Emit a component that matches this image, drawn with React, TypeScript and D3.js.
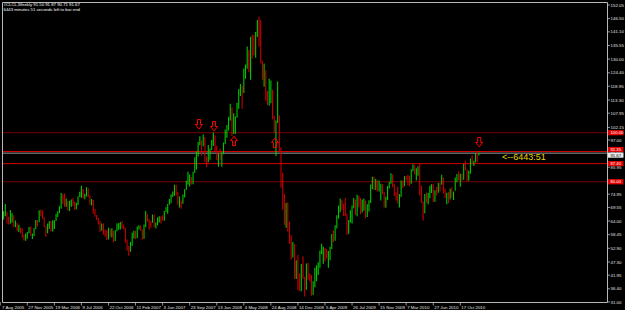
import React from 'react';
import * as d3 from 'd3';

// Weekly bars (#CLCL, Weekly), Aug 2005 – Jan 2011
const OPEN = [
  62.3,66.9,65.4,66.1,67.6,64.1,63.0,64.2,66.2,61.8,62.6,60.6,61.1,60.6,57.8,56.1,58.7,59.3,61.4,58.1,58.4,
  61.0,64.2,63.9,68.4,67.8,65.4,61.8,59.9,62.9,63.7,60.0,62.7,64.3,66.6,67.4,69.3,73.7,71.9,70.2,72.0,68.5,71.4,72.3,71.6,69.9,70.9,73.9,74.1,77.0,74.4,74.8,77.0,74.4,71.1,72.5,67.1,66.3,64.8,63.3,60.6,62.9,59.8,58.6,56.8,60.8,59.1,59.6,56.3,60.0,62.0,62.1,63.4,62.4,
  61.1,56.3,53.0,52.0,55.4,59.0,59.9,59.4,61.1,61.6,60.1,57.1,62.3,65.9,64.3,63.6,63.4,66.5,61.9,62.4,64.9,65.2,65.1,64.8,68.0,68.6,70.7,72.8,74.2,75.6,77.0,75.5,71.5,72.0,71.1,74.0,76.7,79.1,81.6,81.7,81.2,83.7,88.6,91.9,95.9,96.3,95.1,98.2,88.7,88.3,91.3,93.3,96.0,
  97.9,92.7,90.6,90.7,89.0,91.8,95.5,98.8,101.8,105.2,110.2,101.8,105.6,106.2,110.1,116.7,118.5,116.3,126.0,126.3,132.2,127.4,138.5,134.9,134.6,140.2,145.3,145.1,128.9,123.3,125.1,115.2,113.8,114.6,115.5,106.2,101.2,104.6,106.9,93.9,77.7,71.9,64.2,67.8,61.0,57.0,49.9,54.4,40.8,46.3,42.4,37.7,
  46.3,40.8,36.5,46.5,41.7,40.2,37.5,38.9,44.8,45.5,46.3,51.1,52.4,52.5,52.2,50.3,51.6,53.2,58.6,56.3,61.7,66.3,68.4,72.0,69.6,69.2,66.7,59.9,63.6,68.1,69.5,70.9,67.5,73.9,72.7,68.0,69.3,72.0,66.0,70.0,71.8,78.5,80.5,77.0,77.4,76.4,76.7,77.3,75.5,69.9,73.4,78.1,
  79.4,82.8,78.0,74.5,72.9,71.2,74.1,79.8,79.7,81.5,81.2,80.7,80.0,84.8,84.9,83.2,85.1,86.2,75.1,71.6,70.0,74.0,71.5,73.8,77.2,78.9,72.1,76.1,76.0,79.0,78.9,80.7,75.4,73.5,75.2,74.6,76.5,73.7,76.5,81.6,82.7,81.3,81.7,81.4,86.9,84.9,81.5,83.8,89.2,87.8,88.0,91.5,91.5,
];
const HIGH = [
  67.1,67.1,68.0,70.9,67.8,65.7,68.5,67.2,66.4,64.2,63.3,62.5,61.4,61.0,58.5,58.9,59.5,61.6,61.8,58.9,61.2,
  64.4,64.4,68.4,68.7,68.4,65.5,62.0,63.0,63.9,64.0,64.3,64.3,67.0,68.0,70.0,75.4,74.9,75.2,73.2,72.2,72.3,72.8,73.4,72.0,71.5,74.1,75.9,78.4,77.1,75.1,77.8,77.4,74.4,73.0,72.6,69.0,66.5,65.2,64.0,63.0,63.0,60.5,60.3,61.3,61.0,61.1,60.0,60.2,63.0,63.2,63.6,63.9,62.6,
  61.3,56.5,53.8,55.5,59.2,60.0,60.0,61.8,62.3,62.3,60.5,62.6,68.1,66.8,64.9,64.0,66.6,66.7,63.4,65.5,66.0,66.0,66.4,68.1,69.6,70.9,73.0,74.9,76.0,78.8,78.8,75.8,74.0,72.4,74.8,77.0,80.4,84.1,83.0,81.9,84.1,90.0,92.2,96.2,98.6,96.9,99.3,98.3,90.2,95.0,93.5,97.0,100.1,
  99.0,94.7,91.5,93.6,92.0,96.0,101.3,103.1,106.5,111.8,110.3,107.9,106.7,112.2,117.8,119.9,119.1,126.2,127.8,135.1,133.7,139.1,139.9,139.9,141.0,145.9,147.3,145.8,129.3,128.2,125.5,117.0,122.0,121.3,117.5,107.0,105.0,120.9,107.0,94.0,83.7,75.0,71.3,71.7,63.8,58.3,55.5,54.6,48.0,50.2,42.6,46.5,
  49.6,41.3,46.7,47.0,42.7,42.0,39.5,45.0,46.0,47.2,52.0,54.7,53.5,53.0,52.6,51.8,53.5,58.7,60.1,62.3,66.4,70.3,73.2,72.7,71.0,73.4,67.0,64.4,68.4,70.3,73.4,72.8,74.7,74.3,73.4,72.8,73.2,72.4,70.8,72.5,78.9,82.0,82.0,81.2,80.5,80.5,79.2,79.0,75.8,73.9,78.3,80.0,
  83.5,83.0,79.0,75.6,78.0,75.0,80.5,80.5,82.3,82.4,82.9,82.5,85.1,87.1,86.7,85.5,86.3,87.2,78.5,72.0,75.0,75.6,75.5,78.4,79.0,79.1,76.5,77.9,79.5,79.8,82.9,81.7,77.3,75.5,75.8,77.2,77.8,76.0,81.7,83.2,84.2,83.3,83.3,87.2,88.6,85.0,84.5,89.5,90.8,88.6,91.6,92.1,91.87,
];
const LOW = [
  62.2,62.6,64.6,66.0,63.0,62.6,62.9,63.4,61.6,61.5,59.8,59.5,59.0,57.2,56.1,56.0,56.8,59.0,58.0,56.7,57.9,
  60.8,61.8,63.5,66.0,64.8,61.6,57.6,59.0,60.9,59.8,59.7,60.8,64.0,65.6,67.2,69.0,71.0,69.8,69.8,68.3,68.1,69.8,70.2,68.5,68.8,70.5,73.8,73.5,73.3,72.9,74.0,73.8,70.6,70.3,67.0,65.7,64.4,62.6,59.5,60.0,58.5,57.6,56.3,56.5,57.6,57.3,55.3,55.9,59.8,60.4,60.5,61.0,60.5,
  55.1,51.9,49.9,51.5,53.9,56.9,56.6,57.0,60.5,59.9,56.4,56.8,61.5,63.7,60.4,61.3,63.3,61.5,61.0,62.2,63.4,63.0,64.2,64.1,67.7,67.0,70.6,71.2,73.8,74.3,74.4,70.6,69.5,69.0,71.0,73.6,76.6,78.9,78.1,78.9,79.0,83.6,85.0,90.3,94.9,90.6,94.5,88.0,86.0,88.0,89.0,93.0,94.6,
  92.5,88.9,86.1,88.9,86.1,91.2,95.3,97.9,100.9,105.0,98.7,99.5,99.6,106.1,109.8,115.0,109.8,116.2,122.0,126.1,124.6,121.6,130.1,131.5,130.5,139.0,135.1,128.2,121.6,118.7,113.0,111.3,111.0,112.0,105.5,100.0,90.5,104.0,92.5,77.6,68.6,62.4,61.3,59.6,54.7,48.3,49.1,40.5,40.4,35.9,35.4,35.4,
  40.5,33.2,36.0,40.1,39.4,33.6,33.9,37.0,39.4,42.0,45.0,50.5,46.6,47.6,48.7,45.0,48.0,52.6,55.5,56.0,61.0,65.0,67.6,68.5,66.1,66.0,58.3,58.8,63.4,63.0,69.2,66.5,65.9,69.6,66.8,67.5,68.2,65.1,65.6,67.9,71.3,77.0,76.5,76.6,76.0,76.0,72.4,75.0,69.5,69.4,72.6,77.3,
  79.2,77.8,74.2,72.4,71.1,69.5,73.8,77.5,78.2,80.5,78.6,78.2,79.2,84.3,83.0,80.5,82.5,74.5,71.4,64.2,67.2,71.4,70.8,73.3,75.4,71.8,71.9,74.4,75.5,76.0,78.8,75.3,73.3,70.8,71.3,72.8,73.6,72.6,76.3,79.8,80.5,78.0,80.3,80.8,84.7,80.1,80.4,83.3,87.2,86.4,87.9,88.0,90.71,
];
const CLOSE = [
  66.9,65.4,66.1,67.6,64.1,63.0,64.2,66.2,61.8,62.6,60.6,61.1,60.6,57.8,56.1,58.7,59.3,61.4,58.1,58.4,61.0,
  64.2,63.9,68.4,67.8,65.4,61.8,59.9,62.9,63.7,60.0,62.7,64.3,66.6,67.4,69.3,73.7,71.9,70.2,72.0,68.5,71.4,72.3,71.6,69.9,70.9,73.9,74.1,77.0,74.4,74.8,77.0,74.4,71.1,72.5,67.1,66.3,64.8,63.3,60.6,62.9,59.8,58.6,56.8,60.8,59.1,59.6,56.3,60.0,62.0,62.1,63.4,62.4,61.1,
  56.3,53.0,52.0,55.4,59.0,59.9,59.4,61.1,61.6,60.1,57.1,62.3,65.9,64.3,63.6,63.4,66.5,61.9,62.4,64.9,65.2,65.1,64.8,68.0,68.6,70.7,72.8,74.2,75.6,77.0,75.5,71.5,72.0,71.1,74.0,76.7,79.1,81.6,81.7,81.2,83.7,88.6,91.9,95.9,96.3,95.1,98.2,88.7,88.3,91.3,93.3,96.0,97.9,
  92.7,90.6,90.7,89.0,91.8,95.5,98.8,101.8,105.2,110.2,101.8,105.6,106.2,110.1,116.7,118.5,116.3,126.0,126.3,132.2,127.4,138.5,134.9,134.6,140.2,145.3,145.1,128.9,123.3,125.1,115.2,113.8,114.6,115.5,106.2,101.2,104.6,106.9,93.9,77.7,71.9,64.2,67.8,61.0,57.0,49.9,54.4,40.8,46.3,42.4,37.7,46.3,
  40.8,36.5,46.5,41.7,40.2,37.5,38.9,44.8,45.5,46.3,51.1,52.4,52.5,52.2,50.3,51.6,53.2,58.6,56.3,61.7,66.3,68.4,72.0,69.6,69.2,66.7,59.9,63.6,68.1,69.5,70.9,67.5,73.9,72.7,68.0,69.3,72.0,66.0,70.0,71.8,78.5,80.5,77.0,77.4,76.4,76.7,77.3,75.5,69.9,73.4,78.1,79.4,
  82.8,78.0,74.5,72.9,71.2,74.1,79.8,79.7,81.5,81.2,80.7,80.0,84.9,84.9,83.2,85.1,86.2,75.1,71.6,70.0,74.0,71.5,73.8,77.2,78.9,72.1,76.1,76.0,79.0,78.9,80.7,75.4,73.5,75.2,74.6,76.5,73.7,76.5,81.6,82.7,81.3,81.7,81.4,86.9,84.9,81.5,83.8,89.2,87.8,88.0,91.5,91.4,91.67,
];

const DATE_LABELS = [
  '7 Aug 2005','27 Nov 2005','19 Mar 2006','9 Jul 2006','22 Oct 2006','11 Feb 2007',
  '3 Jun 2007','23 Sep 2007','13 Jan 2008','4 May 2008','24 Aug 2008','14 Dec 2008',
  '5 Apr 2009','26 Jul 2009','15 Nov 2009','7 Mar 2010','27 Jun 2010','17 Oct 2010',
];
const LABEL_EVERY = 16; // bars between time-axis labels

const PRICE_LABELS = [
  '152.05','146.50','141.10','135.55','130.00','124.40','118.95','113.30','107.95','102.15',
  '97.00','91.50','85.95','80.40','74.95','69.55','64.00','58.45','52.90','47.30','41.95','36.40','31.00',
];

const LEVEL_PRICES = [100.0, 92.35, 87.4, 80.0];
const LEVEL_KINDS = ['outer', 'inner', 'inner', 'outer'];
const BID = 91.67;

const ARROW_BARS = [117.5, 126.4, 138.2, 162.4, 283.2];
const ARROW_PRICES = [101.5, 100.7, 98.6, 97.8, 94.2];
const ARROW_DIRS = ['down', 'down', 'up', 'up', 'down'];

const HEADER = ['#CLCL,Weekly  91.50 91.87 90.71 91.67', '6443 minutes 51 seconds left to bar end'];
const TIMER = '<--6443:51';

const FONT = "'Liberation Sans', Arial, sans-serif";

export default function App() {
  const L = 2, T = 2, R = 607, B = 302;
  const x = d3.scaleLinear().domain([0, 272]).range([0.25, 460.3]);
  const y = d3.scaleLinear().domain([31.0, 152.05]).range([B, 5]);
  const n = CLOSE.length;
  const bars = d3.range(n);

  const arrowPath = (dir: string) =>
    dir === 'down'
      ? 'M-1.5,-9.5 L1.5,-9.5 L1.5,-4.5 L3.5,-4.5 L0,0 L-3.5,-4.5 L-1.5,-4.5 Z'
      : 'M-1.5,9.5 L1.5,9.5 L1.5,4.5 L3.5,4.5 L0,0 L-3.5,4.5 L-1.5,4.5 Z';

  // price-axis boxes, stacked so that close ones do not overlap
  const BOX_H = 5.2;
  const boxes = [
    ...LEVEL_PRICES.map((p) => ({ p, bg: '#e00000', fg: '#ffffff', cy: y(p) })),
    { p: BID, bg: '#e8e8e8', fg: '#000000', cy: y(BID) },
  ].sort((a, b) => a.cy - b.cy);
  for (let i = 1; i < boxes.length; i++) {
    const gap = boxes[i].cy - boxes[i - 1].cy;
    if (gap < BOX_H + 0.4) {
      const push = (BOX_H + 0.4 - gap) / 2;
      boxes[i - 1].cy -= push;
      boxes[i].cy += push;
    }
  }

  return (
    <svg
      width={625}
      height={310}
      style={{ position: 'absolute', left: 0, top: 0, display: 'block' }}
      fontFamily={FONT}
    >
      <rect x={0} y={0} width={625} height={310} fill="#000" />
      <defs>
        <clipPath id="plotclip">
          <rect x={L} y={T} width={R - L} height={B - T} />
        </clipPath>
      </defs>
      <g clipPath="url(#plotclip)">
        {LEVEL_PRICES.map((p, i) => (
          <line
            key={'lv' + i}
            x1={L}
            x2={R}
            y1={y(p)}
            y2={y(p)}
            stroke={LEVEL_KINDS[i] === 'outer' ? '#7a0000' : '#d40000'}
            strokeWidth={1}
          />
        ))}
        <line x1={L} x2={R} y1={y(BID)} y2={y(BID)} stroke="#9a9a9a" strokeWidth={1} />
        {bars.map((i) => {
          const up = CLOSE[i] >= OPEN[i];
          return (
            <line
              key={'b' + i}
              x1={x(i)}
              x2={x(i)}
              y1={y(HIGH[i])}
              y2={y(LOW[i])}
              stroke={up ? '#00c800' : '#c80000'}
              strokeWidth={1.1}
            />
          );
        })}
        {ARROW_BARS.map((b, i) => (
          <path
            key={'ar' + i}
            d={arrowPath(ARROW_DIRS[i])}
            transform={`translate(${x(b)},${y(ARROW_PRICES[i])})`}
            fill="none"
            stroke="#ff0000"
            strokeWidth={1}
          />
        ))}
      </g>
      {/* frame */}
      <path d={`M${L + 0.5},${B + 0.5} L${L + 0.5},${T + 0.5} L${R + 0.5},${T + 0.5} L${R + 0.5},${B + 0.5} Z`} fill="none" stroke="#b8b8b8" strokeWidth={1} />
      {/* price axis */}
      {PRICE_LABELS.map((s, i) => (
        <g key={'pt' + i}>
          <line x1={R + 0.5} x2={R + 3} y1={y(+s)} y2={y(+s)} stroke="#b8b8b8" strokeWidth={0.8} />
          <text x={R + 3.5} y={y(+s) + 1.6} fontSize={4.4} fill="#e0e0e0">
            {s}
          </text>
        </g>
      ))}
      {boxes.map((bx, i) => (
        <g key={'bx' + i}>
          <rect x={R + 1} y={bx.cy - BOX_H / 2} width={15.5} height={BOX_H} fill={bx.bg} />
          <text x={R + 3.5} y={bx.cy + 1.5} fontSize={4.2} fill={bx.fg}>
            {bx.p.toFixed(2)}
          </text>
        </g>
      ))}
      {/* time axis */}
      {DATE_LABELS.map((s, i) => {
        const xx = x(i * LABEL_EVERY);
        return (
          <g key={'dt' + i}>
            <line x1={xx} x2={xx} y1={B} y2={B + 3.5} stroke="#b8b8b8" strokeWidth={0.8} />
            <text x={Math.max(xx + 1, 2)} y={B + 6.8} fontSize={4.4} fill="#e0e0e0">
              {s}
            </text>
          </g>
        );
      })}
      {/* header */}
      {HEADER.map((s, i) => (
        <text key={'h' + i} x={3.5} y={6.4 + i * 4.6} fontSize={4.3} fill="#ffffff">
          {s}
        </text>
      ))}
      <text x={x(n - 1) + 23} y={y(BID) + 6.5} fontSize={9} fill="#e8d400">
        {TIMER}
      </text>
    </svg>
  );
}
